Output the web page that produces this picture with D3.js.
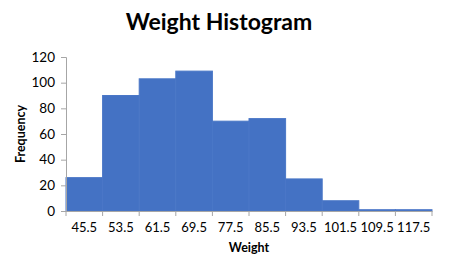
<!DOCTYPE html>
<html>
<head>
<meta charset="utf-8">
<script src="https://cdn.jsdelivr.net/npm/d3@7"></script>
<style>
  body { margin: 0; background: #fff; }
  text { font-family: Lato, "Open Sans", sans-serif; fill: #000; }
</style>
</head>
<body>
<svg width="450" height="276"></svg>
<script>
// bins and counts
var bins = ['45.5', '53.5', '61.5', '69.5', '77.5', '85.5', '93.5', '101.5', '109.5', '117.5'];
var counts = [26, 90, 103, 109, 70, 72, 25, 8, 1, 1];
var yTicks = [0, 20, 40, 60, 80, 100, 120];

var svg = d3.select('svg');
var plotLeft = 66, plotRight = 432, plotTop = 57, plotBottom = 211;

var x = d3.scaleBand().domain(bins).range([plotLeft, plotRight]).padding(0);
var y = d3.scaleLinear().domain([0, 120]).range([plotBottom, plotTop]);

// bars
svg.append('g')
  .selectAll('rect')
  .data(counts)
  .join('rect')
  .attr('x', function(d, i) { return x(bins[i]); })
  .attr('y', function(d) { return y(d); })
  .attr('width', x.bandwidth())
  .attr('height', function(d) { return plotBottom - y(d); })
  .attr('fill', '#4472C4')
  .attr('stroke', '#4a77c7')
  .attr('stroke-width', 1);

// y axis
var yAxis = svg.append('g')
  .attr('transform', 'translate(' + plotLeft + ',0)')
  .call(d3.axisLeft(y).tickValues(yTicks).tickSize(5).tickPadding(6));
yAxis.selectAll('line, path').attr('stroke', '#a6a6a6');
yAxis.selectAll('text').attr('font-size', 13.5).style('font-family', 'Lato, sans-serif');

// x axis, ticks at band edges
var xAxis = svg.append('g')
  .attr('transform', 'translate(0,' + plotBottom + ')')
  .call(d3.axisBottom(x).tickSize(0).tickPadding(12));
xAxis.select('path').attr('stroke', '#a6a6a6');
xAxis.selectAll('text').attr('font-size', 13).style('font-family', 'Lato, sans-serif');
xAxis.selectAll('line.edge')
  .data(bins.concat(['end']))
  .join('line')
  .attr('class', 'edge')
  .attr('x1', function(d, i) { return plotLeft + i * x.bandwidth(); })
  .attr('x2', function(d, i) { return plotLeft + i * x.bandwidth(); })
  .attr('y1', 0)
  .attr('y2', 5)
  .attr('stroke', '#a6a6a6');

// titles
svg.append('text')
  .attr('x', 219).attr('y', 30)
  .attr('text-anchor', 'middle')
  .attr('font-size', 23).attr('font-weight', 'bold')
  .text('Weight Histogram');

svg.append('text')
  .attr('x', 249).attr('y', 252)
  .attr('text-anchor', 'middle')
  .attr('font-size', 12.5).attr('font-weight', 'bold')
  .text('Weight');

svg.append('text')
  .attr('transform', 'translate(25,134) rotate(-90)')
  .attr('text-anchor', 'middle')
  .attr('font-size', 12.5).attr('font-weight', 'bold')
  .text('Frequency');
</script>
</body>
</html>
